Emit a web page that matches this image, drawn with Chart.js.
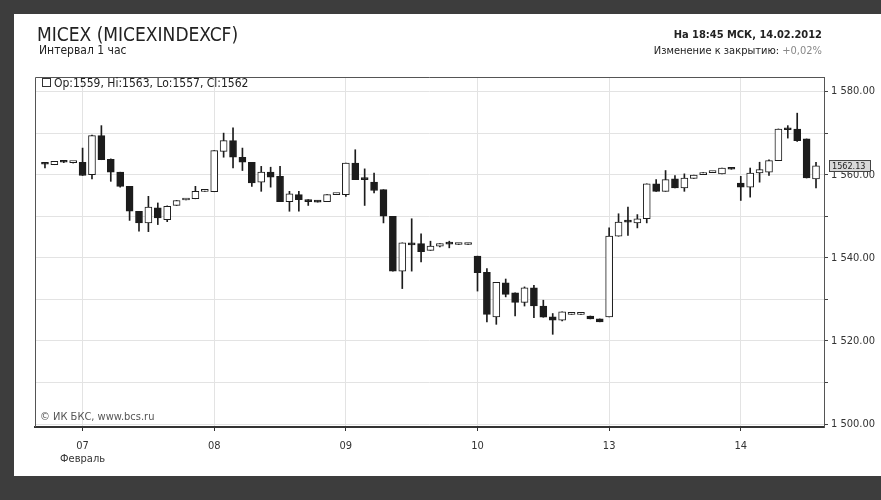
<!DOCTYPE html>
<html>
<head>
<meta charset="utf-8">
<script src="https://cdn.jsdelivr.net/npm/chart.js@4.4.1/dist/chart.umd.min.js"></script>
<style>
    html, body { margin: 0; padding: 0; width: 881px; height: 500px; overflow: hidden; background: #3d3d3d; }
    #panel { position: absolute; left: 14px; top: 14px; width: 867px; height: 462px; background: #fff; }
    #chart { position: absolute; left: 0; top: 0; }
    .txt { position: absolute; font-family: "DejaVu Sans Condensed", "Liberation Sans Narrow", Arial, sans-serif; color: #222; white-space: nowrap; line-height: 1; }
    #title { left: 37px; top: 25px; font-size: 19px; }
    #interval { left: 39px; top: 44px; font-size: 12px; }
    #asof { right: 59px; top: 29px; font-size: 11px; font-weight: bold; }
    #change { right: 59px; top: 45px; font-size: 11px; }
    #change span { color: #888; }
    #ohlc { left: 42px; top: 77px; font-size: 12px; }
    #ohlc i { display: inline-block; width: 7px; height: 7px; border: 1px solid #333; margin-right: 3px; vertical-align: 0; }
    #copy { left: 40px; top: 411px; font-size: 11px; color: #555; }
</style>
</head>
<body>
<div id="panel"></div>
<canvas id="chart" width="881" height="500"></canvas>
<div class="txt" id="title">MICEX (MICEXINDEXCF)</div>
<div class="txt" id="interval">Интервал 1 час</div>
<div class="txt" id="asof">На 18:45 МСК, 14.02.2012</div>
<div class="txt" id="change">Изменение к закрытию: <span>+0,02%</span></div>
<div class="txt" id="ohlc"><i></i>Op:1559, Hi:1563, Lo:1557, Cl:1562</div>
<div class="txt" id="copy">© ИК БКС, www.bcs.ru</div>
<script>
// --------- Данные: часовые свечи MICEX, 06.02 20:00 – 14.02 18:00 ----------
const days = ["06", "07", "08", "09", "10", "13", "14"];
const firstHour = [20, 10, 10, 10, 10, 10, 10];
const lastHour = [23, 23, 23, 23, 23, 23, 18];

const dayLabels = ["07", "08", "09", "10", "13", "14"];
const monthLabel = "Февраль";

const opens = [
    1562.7, 1562.4, 1563.2, 1562.9,
    1563.0, 1560.0, 1569.4, 1563.7, 1560.6, 1557.2, 1551.2, 1548.4, 1552.0, 1549.2, 1552.6, 1553.9, 1554.2, 1556.0,
    1555.9, 1565.6, 1568.2, 1564.2, 1563.0, 1558.2, 1560.6, 1559.6, 1553.5, 1555.2, 1554.0, 1553.7, 1553.5, 1555.2,
    1555.2, 1562.8, 1559.1, 1558.2, 1556.4, 1550.0, 1536.8, 1543.4, 1543.4, 1541.8, 1542.8, 1543.4, 1543.2, 1543.2,
    1540.4, 1536.5, 1525.8, 1534.0, 1531.6, 1529.3, 1532.8, 1528.4, 1525.8, 1525.0, 1526.4, 1526.4, 1526.0, 1525.3,
    1525.8, 1545.2, 1548.9, 1548.4, 1549.4, 1557.8, 1556.0, 1559.0, 1556.8, 1559.1, 1560.0, 1560.5, 1560.2, 1561.6,
    1558.0, 1557.0, 1560.4, 1560.6, 1563.4, 1570.9, 1571.0, 1568.6, 1559.0
];
const highs = [
    1562.8, 1563.2, 1563.2, 1563.0,
    1566.4, 1569.5, 1571.8, 1563.8, 1560.6, 1557.2, 1551.2, 1554.8, 1553.2, 1552.5, 1553.8, 1553.9, 1557.2, 1556.0,
    1565.8, 1570.0, 1571.3, 1566.4, 1563.0, 1562.0, 1561.8, 1562.0, 1556.0, 1556.0, 1554.0, 1553.7, 1555.2, 1555.2,
    1562.8, 1566.0, 1561.4, 1560.4, 1556.4, 1550.0, 1543.6, 1549.4, 1545.8, 1544.0, 1543.4, 1544.0, 1543.2, 1543.2,
    1540.4, 1537.4, 1534.1, 1534.9, 1531.6, 1533.0, 1533.4, 1529.8, 1526.6, 1527.0, 1526.4, 1526.4, 1526.0, 1525.3,
    1547.2, 1550.6, 1552.2, 1550.4, 1557.8, 1558.8, 1561.0, 1559.8, 1560.2, 1559.9, 1560.5, 1560.7, 1561.6, 1561.6,
    1559.6, 1561.6, 1563.0, 1563.6, 1571.0, 1571.8, 1574.8, 1568.6, 1563.0
];
const lows = [
    1561.6, 1562.4, 1562.9, 1562.8,
    1559.8, 1559.0, 1563.6, 1558.4, 1557.0, 1549.0, 1546.4, 1546.3, 1548.0, 1548.7, 1552.6, 1553.9, 1554.2, 1556.0,
    1555.9, 1564.2, 1561.6, 1561.0, 1557.2, 1556.0, 1557.0, 1553.5, 1551.2, 1551.2, 1552.6, 1553.4, 1553.5, 1555.2,
    1554.8, 1558.8, 1552.6, 1555.6, 1548.4, 1536.8, 1532.6, 1536.8, 1539.0, 1541.8, 1542.6, 1542.4, 1543.2, 1543.2,
    1532.0, 1524.6, 1524.0, 1530.6, 1526.0, 1528.4, 1525.6, 1525.7, 1521.6, 1524.8, 1526.4, 1526.4, 1525.3, 1524.6,
    1525.8, 1545.2, 1545.4, 1547.2, 1548.4, 1556.0, 1556.0, 1556.8, 1556.0, 1559.1, 1560.0, 1560.5, 1560.2, 1561.3,
    1553.8, 1554.6, 1558.2, 1559.8, 1563.4, 1568.8, 1568.0, 1559.2, 1556.8
];
const closes = [
    1562.5, 1563.2, 1563.0, 1562.9,
    1559.8, 1569.4, 1563.6, 1560.6, 1557.2, 1551.2, 1548.4, 1552.2, 1549.6, 1552.4, 1553.8, 1553.9, 1556.0, 1556.0,
    1565.8, 1568.2, 1564.2, 1563.0, 1558.0, 1560.6, 1559.4, 1553.5, 1555.4, 1554.0, 1553.5, 1553.4, 1555.2, 1555.2,
    1562.8, 1558.8, 1558.8, 1556.2, 1550.0, 1536.8, 1543.6, 1543.1, 1541.5, 1542.8, 1543.4, 1543.3, 1543.2, 1543.2,
    1536.4, 1526.4, 1534.1, 1531.2, 1529.3, 1532.8, 1528.4, 1525.7, 1525.0, 1527.0, 1526.4, 1526.4, 1525.3, 1524.6,
    1545.2, 1548.6, 1548.6, 1549.4, 1557.8, 1556.0, 1558.8, 1556.8, 1559.2, 1559.9, 1560.5, 1560.7, 1561.6, 1561.3,
    1557.0, 1560.4, 1561.2, 1563.4, 1571.0, 1570.8, 1568.2, 1559.2, 1562.13
];

const yGrid = [1500, 1510, 1520, 1530, 1540, 1550, 1560, 1570, 1580];

// --------- Категории (часы) и начала дней ----------
const times = [];
const dayStarts = [];
days.forEach((d, k) => {
    for (let h = firstHour[k]; h <= lastHour[k]; h++) {
        if (h === 10) dayStarts.push(times.length);
        times.push(d + ".02 " + h + ":00");
    }
});

const INK = "#1c1c1c";
const FONT = '"DejaVu Sans Condensed", "Liberation Sans Narrow", Arial, sans-serif';

const bodies = times.map((t, i) => ({ x: i, y: [opens[i], closes[i]] }));
const wicks = times.map((t, i) => ({ x: i, y: [lows[i], highs[i]] }));

function fmtPrice(v) {
    const s = v.toFixed(2);
    return s.length > 6 ? s.slice(0, s.length - 6) + " " + s.slice(s.length - 6) : s;
}

// рамка графика
const framePlugin = {
    id: "frame",
    afterDatasetsDraw(chart) {
        const { ctx, chartArea: a } = chart;
        ctx.save();
        ctx.strokeStyle = "#555";
        ctx.lineWidth = 1;
        ctx.beginPath();
        ctx.moveTo(a.left + 0.5, a.bottom);
        ctx.lineTo(a.left + 0.5, a.top + 0.5);
        ctx.lineTo(a.right, a.top + 0.5);
        ctx.stroke();
        ctx.restore();
    }
};

// метка последней цены на правой оси
const lastPricePlugin = {
    id: "lastPrice",
    afterDraw(chart) {
        const { ctx, chartArea: a } = chart;
        const last = closes[closes.length - 1];
        const y = Math.round(chart.scales.y.getPixelForValue(last));
        ctx.save();
        ctx.fillStyle = "#d9d9d9";
        ctx.strokeStyle = "#444";
        ctx.lineWidth = 1;
        ctx.fillRect(a.right + 5, y - 6, 42, 12);
        ctx.strokeRect(a.right + 5.5, y - 5.5, 41, 11);
        ctx.fillStyle = "#222";
        ctx.font = "9px " + FONT;
        ctx.textBaseline = "middle";
        ctx.fillText(last.toFixed(2), a.right + 8, y + 0.5);
        ctx.restore();
    }
};

new Chart(document.getElementById("chart"), {
    type: "bar",
    data: {
        datasets: [{
            label: "body",
            data: bodies,
            grouped: false,
            barThickness: 7,
            minBarLength: 2,
            backgroundColor: times.map((t, i) => closes[i] >= opens[i] ? "#fff" : INK),
            borderColor: INK,
            borderWidth: 1,
            borderSkipped: false,
            order: 0
        }, {
            label: "wick",
            data: wicks,
            grouped: false,
            barThickness: 1,
            minBarLength: 1,
            backgroundColor: INK,
            borderWidth: 0,
            order: 1
        }]
    },
    options: {
        responsive: false,
        animation: false,
        events: [],
        layout: { padding: { left: 35, top: 77, right: 0, bottom: 28 } },
        plugins: { legend: { display: false }, tooltip: { enabled: false } },
        scales: {
            x: {
                type: "linear",
                min: -1.06,
                max: 82.85,
                offset: false,
                afterBuildTicks: axis => { axis.ticks = dayStarts.map(v => ({ value: v })); },
                afterFit: axis => { axis.height = 45; },
                grid: { offset: false, color: "#e3e3e3", tickColor: "#333", tickLength: 4 },
                border: { color: "#333", width: 2 },
                ticks: {
                    autoSkip: false,
                    maxRotation: 0,
                    padding: 8,
                    color: "#333",
                    font: { family: FONT, size: 11, lineHeight: 1.25 },
                    callback: (v) => {
                        const k = dayStarts.indexOf(v);
                        if (k < 0) return "";
                        return k === 0 ? [dayLabels[k], monthLabel] : dayLabels[k];
                    }
                }
            },
            y: {
                position: "right",
                min: 1499.3,
                max: 1583.5,
                afterBuildTicks: axis => { axis.ticks = yGrid.map(v => ({ value: v })); },
                afterFit: axis => { axis.width = 57; },
                grid: { color: "#e3e3e3", tickColor: "#444", tickLength: 4 },
                border: { color: "#555", width: 1 },
                ticks: {
                    padding: 3,
                    color: "#333",
                    font: { family: FONT, size: 11 },
                    callback: v => v % 20 === 0 ? fmtPrice(v) : ""
                }
            }
        }
    },
    plugins: [framePlugin, lastPricePlugin]
});
</script>
</body>
</html>
